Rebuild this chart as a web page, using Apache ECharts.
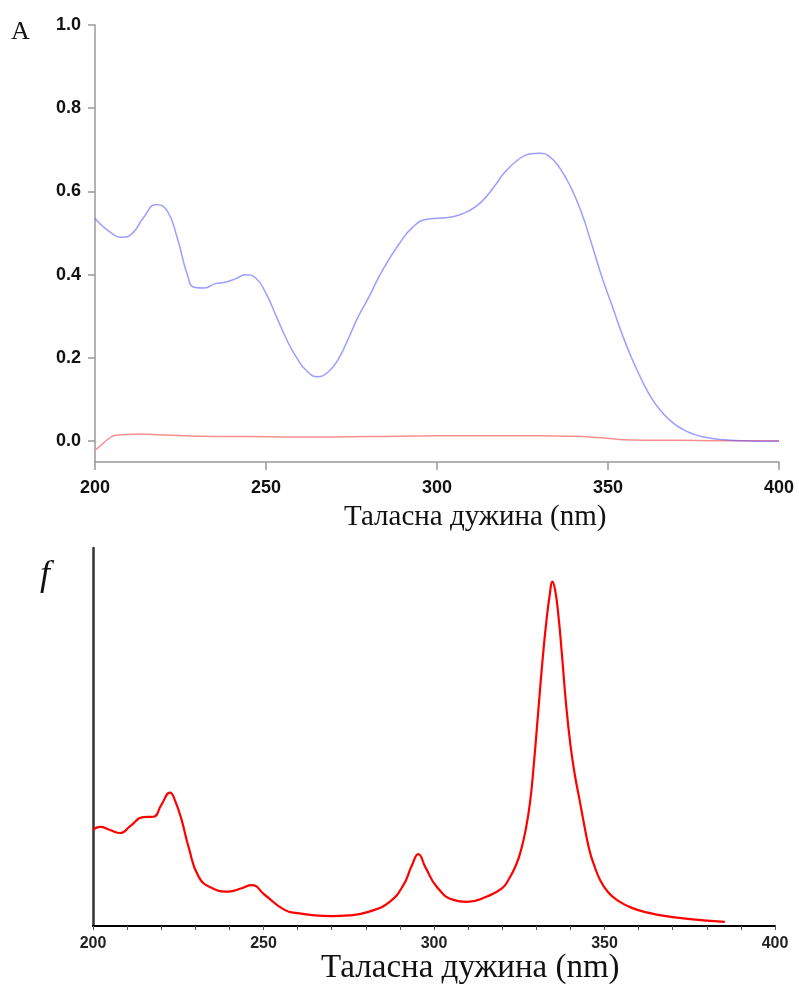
<!DOCTYPE html>
<html>
<head>
<meta charset="utf-8">
<script src="https://cdn.jsdelivr.net/npm/echarts@6/dist/echarts.min.js"></script>
<style>html,body{margin:0;padding:0;background:#fff}#c{width:799px;height:994px}</style>
</head>
<body>
<div id="c"></div>
<script>
// Panel A: absorbance spectra
var wlBlue = [200,204,208,211,214,218,221,224,227,229,232,235,238,241,244,247,250,253,256,259,262,265,268,271,274,277,280,284,289,293,297,301,305,309,313,317,320,324,327,330,333,336,339,342,345,348,351,354,357,360,363,366,369,372,375,378,381,385,390,395,400];
var absBlue = [0.535,0.505,0.49,0.50,0.535,0.569,0.555,0.49,0.40,0.37,0.368,0.378,0.382,0.39,0.40,0.392,0.355,0.30,0.245,0.20,0.168,0.155,0.165,0.195,0.245,0.30,0.345,0.41,0.475,0.515,0.533,0.536,0.54,0.552,0.575,0.615,0.648,0.678,0.69,0.692,0.683,0.655,0.612,0.555,0.48,0.40,0.33,0.26,0.198,0.145,0.100,0.068,0.044,0.028,0.017,0.010,0.006,0.003,0.001,0.0,0.0];
var wlRed = [200,202,204,206,209,213,220,231,245,260,280,300,320,340,348,357,370,385,400];
var absRed = [-0.022,-0.008,0.006,0.014,0.016,0.017,0.015,0.012,0.011,0.010,0.011,0.013,0.013,0.012,0.008,0.003,0.002,0.001,0.001];
var yTicksA = [0.0,0.2,0.4,0.6,0.8,1.0];
var xTicksA = [200,250,300,350,400];

// Panel f: calculated spectrum (arbitrary units)
var wlF = [200,202,205,208,211,214.7,217.7,220,222.6,224,226,228,231,235,239.7,243.6,246.5,250.4,256.3,260,265,270,275,281,287,291,293.5,295.4,297.5,300.8,305.7,309.6,315.5,320,322,324,325.5,327,328.2,329.2,330.5,331.8,333,334,334.7,335.5,336.5,337.5,338.7,340,341.3,342.7,344,345.6,347,348.7,351,353.6,358,363.4,368,373.2,379,385.3];
var valF = [0.254,0.262,0.254,0.246,0.265,0.288,0.289,0.32,0.353,0.333,0.28,0.21,0.13,0.10,0.091,0.10,0.108,0.082,0.042,0.034,0.028,0.026,0.028,0.038,0.064,0.108,0.16,0.19,0.155,0.104,0.069,0.064,0.078,0.10,0.125,0.16,0.20,0.26,0.33,0.42,0.56,0.70,0.81,0.88,0.911,0.89,0.82,0.72,0.59,0.48,0.40,0.333,0.27,0.20,0.16,0.122,0.09,0.069,0.048,0.034,0.026,0.020,0.015,0.011];
var xLabelsF = [200,250,300,350,400];

function pairs(xs, ys){ return xs.map(function(x,i){ return [x, ys[i]]; }); }

var chart = echarts.init(document.getElementById('c'), null, {renderer:'canvas'});
var serif = '"Liberation Serif", "Times New Roman", serif';
var sans = '"Liberation Sans", Arial, sans-serif';
chart.setOption({
  animation: false,
  backgroundColor: '#ffffff',
  grid: [
    {left: 95, top: 25, width: 684, height: 437, containLabel: false},
    {left: 93, top: 548, width: 682, height: 378, containLabel: false}
  ],
  xAxis: [
    {gridIndex: 0, type: 'value', min: 200, max: 400, interval: 50,
     axisLine: {onZero: false, lineStyle: {color: '#999999', width: 1.5}},
     axisTick: {show: true, length: 8, lineStyle: {color: '#999999', width: 1.5}},
     axisLabel: {margin: 17, fontFamily: sans, fontWeight: 'bold', fontSize: 18, color: '#111',
       customValues: xTicksA},
     splitLine: {show: false}},
    {gridIndex: 1, type: 'value', min: 200, max: 400, interval: 10,
     axisLine: {onZero: false, lineStyle: {color: '#000000', width: 2}},
     axisTick: {show: true, length: 4, lineStyle: {color: '#555555', width: 1}},
     axisLabel: {margin: 10, fontFamily: '"Liberation Sans Narrow", "Liberation Sans", Arial, sans-serif', fontWeight: 'bold', fontSize: 16, color: '#222',
       formatter: function(v){ return xLabelsF.indexOf(v) >= 0 ? String(v) : ''; }},
     splitLine: {show: false}}
  ],
  yAxis: [
    {gridIndex: 0, type: 'value', min: -0.05, max: 1.0,
     axisLine: {show: true, onZero: false, lineStyle: {color: '#999999', width: 1.5}},
     axisTick: {show: true, length: 7, lineStyle: {color: '#999999', width: 1.5}, customValues: yTicksA},
     axisLabel: {margin: 14, fontFamily: sans, fontWeight: 'bold', fontSize: 18, color: '#111',
       customValues: yTicksA, formatter: function(v){ return v.toFixed(1); }},
     splitLine: {show: false}},
    {gridIndex: 1, type: 'value', min: 0, max: 1,
     axisLine: {show: true, onZero: false, lineStyle: {color: '#333333', width: 2.5}},
     axisTick: {show: false}, axisLabel: {show: false}, splitLine: {show: false}}
  ],
  series: [
    {type: 'line', xAxisIndex: 0, yAxisIndex: 0, data: pairs(wlRed, absRed), smooth: 0.5, symbol: 'none',
     lineStyle: {color: '#ff8f8f', width: 1.5}},
    {type: 'line', xAxisIndex: 0, yAxisIndex: 0, data: pairs(wlBlue, absBlue), smooth: 0.5, symbol: 'none',
     lineStyle: {color: '#4d4dff', width: 1.5, opacity: 0.55}},
    {type: 'line', xAxisIndex: 1, yAxisIndex: 1, data: pairs(wlF, valF), smooth: 0.5, symbol: 'none',
     lineStyle: {color: '#ff0000', width: 2.2}}
  ],
  graphic: [
    {type: 'text', left: 11, top: 19, style: {text: 'A', font: '26px ' + serif, fill: '#111'}},
    {type: 'text', left: 344, top: 503, style: {text: 'Таласна дужина (nm)', font: '29px ' + serif, fill: '#111'}},
    {type: 'text', left: 40, top: 558, style: {text: 'f', font: 'italic 36px ' + serif, fill: '#111'}},
    {type: 'text', left: 321, top: 952, style: {text: 'Таласна дужина (nm)', font: '33px ' + serif, fill: '#111'}}
  ]
});
</script>
</body>
</html>
